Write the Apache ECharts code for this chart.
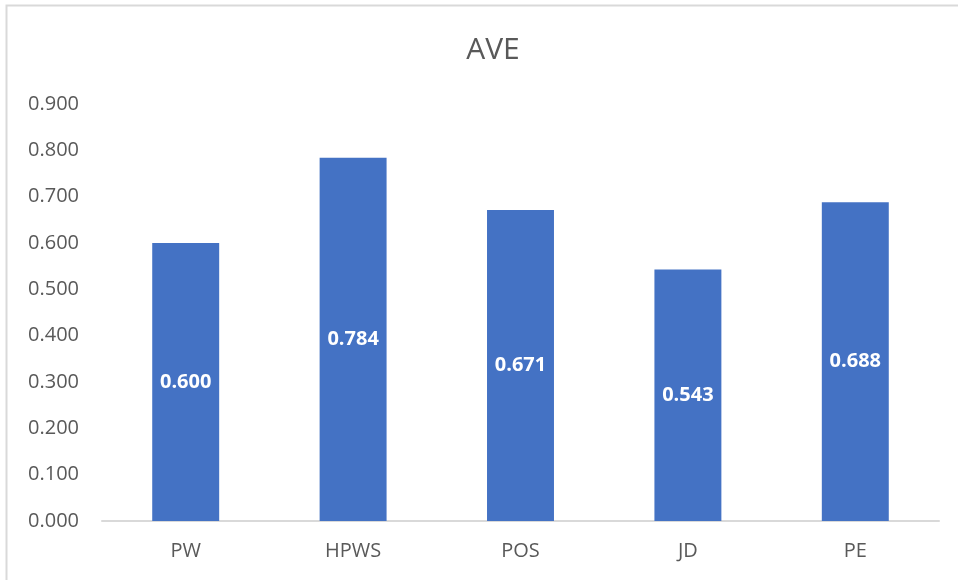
<!DOCTYPE html>
<html>
<head>
<meta charset="utf-8">
<script src="https://cdn.jsdelivr.net/npm/echarts@6/dist/echarts.min.js"></script>
<style>
  html, body { margin: 0; padding: 0; background: #fff; }
  #chart { width: 958px; height: 580px; }
</style>
</head>
<body>
<div id="chart"></div>
<script>
const categories = ['PW', 'HPWS', 'POS', 'JD', 'PE'];
const aveValues = [0.600, 0.784, 0.671, 0.543, 0.688];

const chart = echarts.init(document.getElementById('chart'));
const textColor = '#595959';
const font = '"Open Sans", "Noto Sans", sans-serif';

chart.setOption({
  animation: false,
  textStyle: {fontFamily: font},
  title: {
    text: 'AVE',
    left: 488,
    top: 30,
    textAlign: 'center',
    textStyle: {fontSize: 30, fontWeight: 'normal', color: textColor, fontFamily: font}
  },
  graphic: [{
    type: 'rect',
    shape: {x: 6.5, y: 5.5, width: 1000, height: 700},
    style: {fill: 'none', stroke: '#d9d9d9', lineWidth: 2},
    silent: true
  }],
  grid: {left: 102, right: 19, top: 104, bottom: 59},
  xAxis: {
    type: 'category',
    data: categories,
    axisLine: {lineStyle: {color: '#d9d9d9', width: 2}},
    axisTick: {show: false},
    axisLabel: {color: textColor, fontSize: 20, margin: 20, fontFamily: font}
  },
  yAxis: {
    type: 'value',
    min: 0,
    max: 0.9,
    interval: 0.1,
    splitLine: {show: false},
    axisLine: {show: false},
    axisTick: {show: false},
    axisLabel: {
      color: textColor,
      fontSize: 20,
      margin: 23,
      fontFamily: font,
      formatter: v => v.toFixed(3)
    }
  },
  series: [{
    type: 'bar',
    data: aveValues,
    barWidth: '40%',
    itemStyle: {color: '#4472C4'},
    label: {
      show: true,
      position: 'inside',
      color: '#ffffff',
      fontSize: 20,
      fontWeight: 'bold',
      fontFamily: font,
      formatter: p => p.value.toFixed(3)
    }
  }]
});
</script>
</body>
</html>
